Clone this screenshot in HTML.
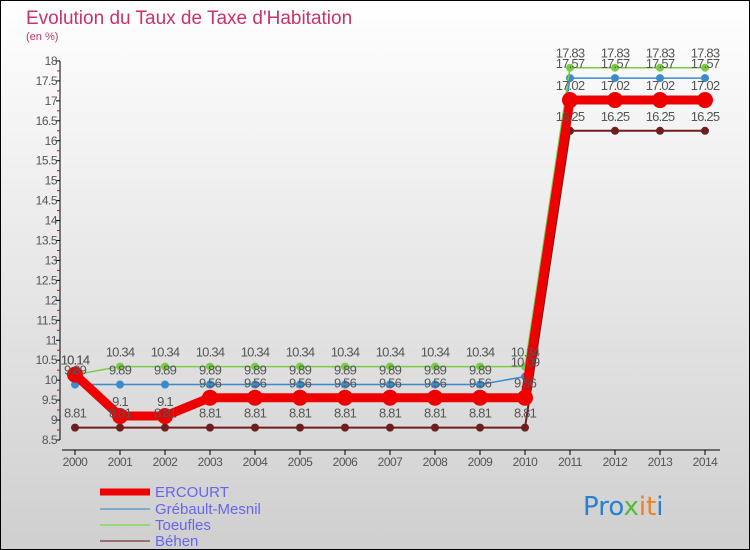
<!DOCTYPE html>
<html><head><meta charset="utf-8"><style>
body{margin:0}
svg{display:block;font-family:"Liberation Sans",sans-serif}
</style></head><body>
<svg id="c" width="750" height="550">
<defs><linearGradient id="bg" x1="0" y1="0" x2="0" y2="1"><stop offset="0" stop-color="#ffffff"/><stop offset="1" stop-color="#cfcfcf"/></linearGradient></defs>
<rect x="0.5" y="0.5" width="749" height="549" fill="url(#bg)" stroke="#000"/>
<text x="26" y="24" font-size="19" fill="#c8336a">Evolution du Taux de Taxe d'Habitation</text>
<text x="26" y="40" font-size="11" fill="#c8336a">(en %)</text>
<g id="axes"></g><g id="series"></g><g id="labels"></g>
<g font-size="15" fill="#6666ee">
<line x1="100" y1="492" x2="150" y2="492" stroke="#ee0000" stroke-width="7"/><text x="155" y="497" fill="#6666ee">ERCOURT</text>
<line x1="100" y1="509" x2="150" y2="509" stroke="#7aaecc" stroke-width="2"/><text x="155" y="514" fill="#6666ee">Grébault-Mesnil</text>
<line x1="100" y1="525" x2="150" y2="525" stroke="#9ad67a" stroke-width="2"/><text x="155" y="530" fill="#6666ee">Toeufles</text>
<line x1="100" y1="541" x2="150" y2="541" stroke="#9a7070" stroke-width="2"/><text x="155" y="546" fill="#6666ee">Béhen</text>
</g>
<text x="583" y="515" font-size="26" font-family="'DejaVu Sans',sans-serif"><tspan fill="#2a7fcf">Pro</tspan><tspan fill="#55bb33">x</tspan><tspan fill="#f08020">it</tspan><tspan fill="#2a7fcf">i</tspan></text>
</svg>
<script>
const years=[2000,2001,2002,2003,2004,2005,2006,2007,2008,2009,2010,2011,2012,2013,2014];
const ercourt=[10.14,9.1,9.1,9.56,9.56,9.56,9.56,9.56,9.56,9.56,9.56,17.02,17.02,17.02,17.02];
const grebault=[9.89,9.89,9.89,9.89,9.89,9.89,9.89,9.89,9.89,9.89,10.09,17.57,17.57,17.57,17.57];
const toeufles=[10.14,10.34,10.34,10.34,10.34,10.34,10.34,10.34,10.34,10.34,10.34,17.83,17.83,17.83,17.83];
const behen=[8.81,8.81,8.81,8.81,8.81,8.81,8.81,8.81,8.81,8.81,8.81,16.25,16.25,16.25,16.25];
const yTicks=[8.5,9,9.5,10,10.5,11,11.5,12,12.5,13,13.5,14,14.5,15,15.5,16,16.5,17,17.5,18];
const NS="http://www.w3.org/2000/svg";
const X=i=>75+i*45, Y=v=>440-(v-8.5)*39.9;
function mk(p,t,a){const e=document.createElementNS(NS,t);for(const k in a)e.setAttribute(k,a[k]);p.appendChild(e);return e;}
const ax=document.getElementById('axes');
let yl=mk(ax,'line',{x1:60,y1:Y(18),x2:60,y2:440,stroke:'#000'});


yTicks.forEach(v=>{
 mk(ax,'line',{x1:56,y1:Y(v),x2:60,y2:Y(v),stroke:'#000'});
 if(v<18)mk(ax,'line',{x1:57,y1:Y(v+0.25),x2:60,y2:Y(v+0.25),stroke:'#e00'});
 const t=mk(ax,'text',{x:57,y:Y(v)+4,'font-size':12,'text-anchor':'end',fill:'#555','letter-spacing':'-0.5'});
 t.textContent=v;
 
 
});
let xl=mk(ax,'line',{x1:62,y1:450,x2:720,y2:450,stroke:'#000'});


years.forEach((y,i)=>{
 mk(ax,'line',{x1:X(i),y1:450,x2:X(i),y2:455,stroke:'#000'});
 const t=mk(ax,'text',{x:X(i),y:466,'font-size':12,'text-anchor':'middle',fill:'#555','letter-spacing':'-0.5'});
 t.textContent=y;
 
 
});
const sg=document.getElementById('series'),lg=document.getElementById('labels');
function series(d,name,col,w,r){
 const g=mk(sg,'g',{});
 
 
 mk(g,'polyline',{points:d.map((v,i)=>X(i)+','+Y(v)).join(' '),fill:'none',stroke:col,'stroke-width':w,'stroke-linejoin':'round'});
 d.forEach((v,i)=>{
  const c=mk(g,'circle',{cx:X(i),cy:Y(v),r:r,fill:col});
  
  
  const t=mk(lg,'text',{x:X(i),y:Y(v)-10,'font-size':13,'text-anchor':'middle',fill:'#555','letter-spacing':'-0.8'});
  t.textContent=v;
  
  
 });
}
series(behen,'behen','#6e1e1e',2,4);
series(grebault,'grebault','#3a8acc',1.5,4);
series(toeufles,'toeufles','#7acc44',1.5,4);
series(ercourt,'ercourt','#ee0000',9,8);
</script>
</body></html>
